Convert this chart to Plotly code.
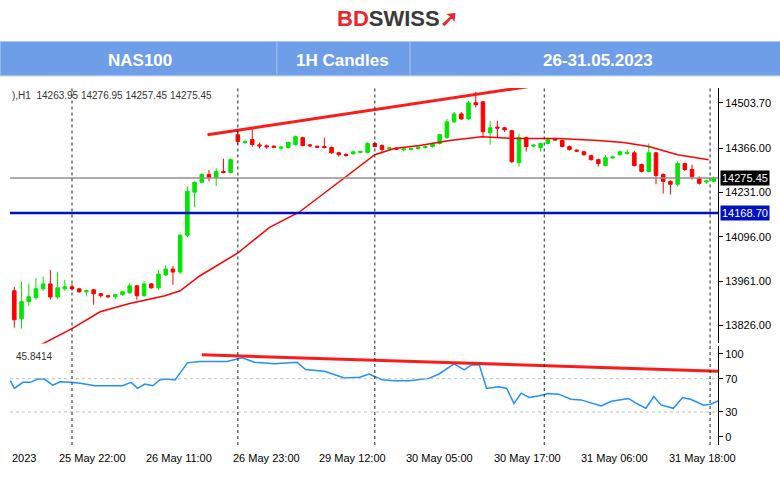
import plotly.graph_objects as go
from plotly.subplots import make_subplots

# hourly candles, index 0..97
opens = [13932, 13847, 13899, 13911, 13938, 13953, 13913, 13938, 13944, 13938,
         13929, 13935, 13923, 13917, 13914, 13920, 13926, 13947, 13917, 13953,
         13941, 13980, 13998, 13989, 14101, 14232, 14262, 14286, 14277, 14295,
         14292, 14407, 14383, 14392, 14376, 14373, 14372, 14366, 14368, 14377,
         14398, 14376, 14372, 14371, 14368, 14352, 14347, 14349, 14353, 14353,
         14380, 14374, 14364, 14366, 14361, 14362, 14365, 14368, 14371, 14380,
         14398, 14446, 14470, 14455, 14504, 14507, 14413, 14430, 14428, 14419,
         14322, 14398, 14372, 14368, 14380, 14394, 14389, 14371, 14360, 14355,
         14343, 14331, 14313, 14336, 14346, 14350, 14352, 14316, 14295, 14352,
         14286, 14265, 14256, 14319, 14301, 14274, 14263, 14265]
highs = [13944, 13960, 13953, 13971, 13975, 13995, 13990, 13965, 13953, 13941,
         13935, 13938, 13926, 13920, 13920, 13932, 13956, 13950, 13962, 13956,
         13995, 14010, 14007, 14104, 14250, 14265, 14290, 14300, 14305, 14334,
         14335, 14420, 14390, 14425, 14383, 14377, 14374, 14372, 14386, 14404,
         14401, 14379, 14373, 14398, 14371, 14355, 14350, 14358, 14358, 14384,
         14386, 14377, 14369, 14368, 14366, 14368, 14372, 14374, 14383, 14410,
         14455, 14476, 14476, 14510, 14537, 14510, 14449, 14449, 14431, 14422,
         14410, 14401, 14378, 14383, 14398, 14397, 14392, 14374, 14362, 14358,
         14346, 14334, 14345, 14342, 14358, 14362, 14358, 14319, 14380, 14355,
         14289, 14268, 14325, 14322, 14316, 14280, 14270, 14280]
lows = [13820, 13817, 13886, 13905, 13932, 13905, 13908, 13932, 13932, 13926,
        13917, 13890, 13911, 13911, 13908, 13917, 13923, 13905, 13914, 13938,
        13935, 13977, 13950, 13983, 14095, 14186, 14259, 14265, 14250, 14289,
        14289, 14377, 14380, 14371, 14365, 14364, 14366, 14359, 14365, 14374,
        14371, 14370, 14366, 14365, 14349, 14340, 14340, 14346, 14350, 14350,
        14368, 14350, 14360, 14360, 14357, 14360, 14362, 14365, 14368, 14377,
        14395, 14443, 14452, 14452, 14490, 14400, 14377, 14400, 14415, 14320,
        14310, 14355, 14369, 14355, 14377, 14388, 14368, 14359, 14354, 14343,
        14328, 14310, 14310, 14332, 14343, 14346, 14310, 14292, 14292, 14256,
        14228, 14225, 14250, 14296, 14270, 14255, 14258, 14262]
closes = [13844, 13899, 13914, 13938, 13953, 13913, 13941, 13944, 13938, 13929,
          13932, 13923, 13917, 13914, 13920, 13929, 13947, 13917, 13953, 13941,
          13983, 13998, 13989, 14101, 14235, 14262, 14286, 14277, 14295, 14292,
          14331, 14386, 14386, 14377, 14373, 14370, 14369, 14369, 14383, 14401,
          14374, 14373, 14369, 14368, 14352, 14346, 14344, 14355, 14356, 14380,
          14371, 14362, 14367, 14363, 14364, 14365, 14369, 14371, 14380, 14407,
          14446, 14470, 14455, 14504, 14498, 14416, 14428, 14427, 14422, 14325,
          14398, 14371, 14375, 14380, 14392, 14391, 14371, 14362, 14357, 14346,
          14331, 14319, 14337, 14339, 14355, 14352, 14313, 14295, 14352, 14283,
          14265, 14256, 14319, 14301, 14280, 14259, 14266, 14275.45]

ma_idx = [3, 5.3, 8, 11.9, 16, 20.9, 23, 25.7, 31, 35.4, 39.5, 43.7, 47.9, 50,
          52.7, 56.2, 60.4, 64.8, 70, 75.5, 81, 84.5, 88, 92, 96.3]
ma_vals = [13760, 13787, 13817, 13868, 13893, 13917, 13932, 13977, 14047, 14125,
           14171, 14241, 14310, 14346, 14365, 14374, 14389, 14401, 14395, 14395,
           14389, 14383, 14371, 14346, 14331]

trend_idx = [26.8, 72.7]
trend_vals = [14407, 14558]

rsi_idx = [-0.55, 0, 1.18, 2.21, 3.25, 4.15, 5.33, 6.36, 7.75, 9.13, 11.2, 15.0,
           16.2, 17.1, 18.1, 19.2, 20.2, 21.2, 22.3, 24.0, 25.7, 29.5, 31.6, 33.3,
           36.1, 39.2, 40.4, 43.0, 45.8, 47.9, 49.2, 51.0, 52.7, 54.8, 57.5, 58.9,
           61.0, 62.4, 63.4, 64.5, 65.5, 67.2, 68.3, 69.3, 70.3, 71.4, 72.8, 74.1,
           75.5, 77.2, 78.6, 81.4, 82.8, 85.2, 86.2, 87.6, 88.7, 89.7, 91.4, 92.7,
           93.8, 95.6, 96.6, 97.6]
rsi_vals = [67.6, 58.3, 65.6, 65.6, 69.6, 69.6, 62.3, 66.4, 65.6, 64.4, 61.5, 61.5,
            65.6, 58.3, 63.6, 61.5, 68.8, 69.6, 68.4, 89.1, 90.7, 90.7, 95.1, 89.9,
            87.9, 89.9, 81.0, 78.9, 70.9, 71.7, 75.7, 68.8, 67.6, 67.6, 70.4, 75.7,
            87.9, 80.6, 86.6, 86.6, 58.3, 60.3, 58.3, 40.1, 52.6, 47.4, 49.4, 52.2,
            51.4, 45.3, 44.5, 37.2, 42.9, 46.2, 40.5, 34.4, 48.6, 38.5, 34.4, 47.4,
            45.3, 38.1, 39.3, 43.3]
rsi_trend_idx = [26, 97.9]
rsi_trend_vals = [98.8, 78.9]

day_lines = [8, 31, 50, 73.5, 96.5]
tick_idx = [-0.55, 5.9, 18, 30, 42, 54.1, 66.2, 78.3, 90.5]
tick_text = ["2023", "25 May 22:00", "26 May 11:00", "26 May 23:00", "29 May 12:00",
             "30 May 05:00", "30 May 17:00", "31 May 06:00", "31 May 18:00"]
price_ticks = [14503.70, 14366.00, 14231.00, 14096.00, 13961.00, 13826.00]
last_price = 14275.45
support = 14168.70

font = "Liberation Sans"
x = list(range(len(closes)))

fig = make_subplots(rows=2, cols=1, shared_xaxes=True, vertical_spacing=0.006,
                    row_heights=[0.72, 0.28])
fig.add_trace(go.Candlestick(x=x, open=opens, high=highs, low=lows, close=closes,
                             increasing=dict(line=dict(color="#00e600", width=1), fillcolor="#00e600"),
                             decreasing=dict(line=dict(color="#ff0000", width=1), fillcolor="#ff0000"),
                             whiskerwidth=0, showlegend=False), row=1, col=1)
fig.add_trace(go.Scatter(x=ma_idx, y=ma_vals, mode="lines", line=dict(color="#ff0000", width=1.5),
                         showlegend=False), row=1, col=1)
fig.add_trace(go.Scatter(x=trend_idx, y=trend_vals, mode="lines", line=dict(color="#ff1a1a", width=3),
                         showlegend=False), row=1, col=1)
fig.add_trace(go.Scatter(x=rsi_idx, y=rsi_vals, mode="lines", line=dict(color="#1e90ff", width=1.5),
                         showlegend=False), row=2, col=1)
fig.add_trace(go.Scatter(x=rsi_trend_idx, y=rsi_trend_vals, mode="lines",
                         line=dict(color="#ff1a1a", width=3), showlegend=False), row=2, col=1)

fig.add_hline(y=last_price, line=dict(color="#909090", width=1.5), row=1, col=1)
fig.add_hline(y=support, line=dict(color="#0010c0", width=2.5), row=1, col=1)
for lvl in [70, 30]:
    fig.add_hline(y=lvl, line=dict(color="#c0c0c0", width=1, dash="dot"), row=2, col=1)
for d in day_lines:
    for r in (1, 2):
        fig.add_vline(x=d, line=dict(color="#222", width=1, dash="dot"), row=r, col=1)

ax = dict(showgrid=False, zeroline=False, ticks="outside", ticklen=4, tickcolor="#000",
          linecolor="#000", linewidth=1, tickfont=dict(family=font, size=11, color="#000"))
fig.update_xaxes(range=[-0.6, 97.6], showticklabels=False, showgrid=False, zeroline=False,
                 rangeslider_visible=False, showline=False)
fig.update_yaxes(side="right", **ax)
fig.update_yaxes(range=[13771.6, 14549], tickvals=price_ticks,
                 ticktext=[f"{v:.2f}" for v in price_ticks], row=1, col=1)
fig.update_yaxes(range=[-9.8, 109.8], tickvals=[100, 70, 30, 0], row=2, col=1)

# header
fig.add_shape(type="rect", xref="paper", yref="paper", x0=-0.014, x1=1.09, y0=1.034, y1=1.13,
              fillcolor="#6f9ee8", line=dict(color="#a9c4ef", width=1))
for xs in [0.377, 0.565]:
    fig.add_shape(type="line", xref="paper", yref="paper", x0=xs, x1=xs, y0=1.034, y1=1.13,
                  line=dict(color="#a9c4ef", width=1))
for txt, xp in [("NAS100", 0.184), ("1H Candles", 0.47), ("26-31.05.2023", 0.83)]:
    fig.add_annotation(text=f"<b>{txt}</b>", xref="paper", yref="paper", x=xp, y=1.076,
                       xanchor="center", yanchor="middle",
                       showarrow=False, font=dict(family=font, size=17, color="#fff"))
fig.add_annotation(text="<b><span style='color:#e8262b'>BD</span><span style='color:#3a3a3a'>SWISS</span>"
                        "<span style='color:#e8262b'>➚</span></b>",
                   xref="paper", yref="paper", x=0.547, y=1.196, xanchor="center", yanchor="middle",
                   showarrow=False, font=dict(family=font, size=22))

fig.add_annotation(text="),H1  14263.95 14276.95 14257.45 14275.45", xref="paper", yref="paper",
                   x=0.0, y=1.0, xanchor="left", yanchor="top", showarrow=False,
                   font=dict(family=font, size=10, color="#333"))
fig.add_annotation(text="45.8414", xref="paper", yref="y2 domain", x=0.005, y=0.97,
                   xanchor="left", yanchor="top", showarrow=False,
                   font=dict(family=font, size=10, color="#333"))
fig.add_annotation(text=f"{last_price:.2f}", xref="paper", yref="y", x=1.003, y=last_price,
                   xanchor="left", showarrow=False, bgcolor="#000", borderpad=1,
                   font=dict(family=font, size=11, color="#fff"))
fig.add_annotation(text=f"{support:.2f}", xref="paper", yref="y", x=1.003, y=support,
                   xanchor="left", showarrow=False, bgcolor="#0010c0", borderpad=1,
                   font=dict(family=font, size=11, color="#fff"))
for ti, tt in zip(tick_idx, tick_text):
    fig.add_annotation(text=tt, x=ti, xref="x2", yref="paper", y=-0.015, xanchor="left",
                       yanchor="top", showarrow=False, font=dict(family=font, size=11, color="#000"))

fig.update_layout(width=780, height=482, paper_bgcolor="#fff", plot_bgcolor="#fff",
                  margin=dict(l=10, r=62, t=88, b=37, autoexpand=False), showlegend=False)
fig.write_html("out.html", config={"displayModeBar": False},
               post_script="document.body.style.margin='0';")
